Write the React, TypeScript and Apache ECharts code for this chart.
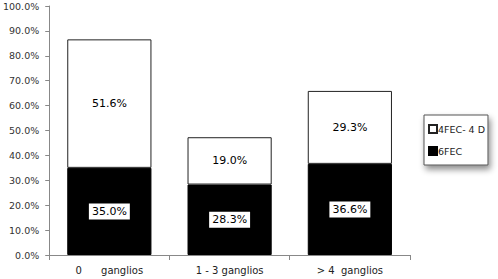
import React, { useEffect, useRef } from "react";
import * as echarts from "echarts";

const categories = ["0      ganglios", "1 - 3 ganglios", "> 4  ganglios"];
const series6FEC = [35.0, 28.3, 36.6];
const series4FEC = [51.6, 19.0, 29.3];
const seriesNames = ["6FEC", "4FEC- 4 D"];

export default function App() {
  const ref = useRef<HTMLDivElement>(null);
  useEffect(() => {
    if (!ref.current) return;
    const chart = echarts.init(ref.current, undefined, { renderer: "svg" });
    const font = "DejaVu Sans";
    const label = {
      show: true,
      position: "inside",
      color: "#000",
      backgroundColor: "#fff",
      padding: [3, 3, 2, 3],
      fontFamily: font,
      fontSize: 11,
      formatter: (p: any) => `${Number(p.value).toFixed(1)}%`,
    };
    chart.setOption({
      animation: false,
      textStyle: { fontFamily: font },
      grid: { left: 49, right: 88, top: 6, bottom: 24 },
      legend: {
        orient: "vertical",
        left: 424,
        top: 115,
        data: [seriesNames[1], seriesNames[0]],
        itemWidth: 8,
        itemHeight: 8,
        itemGap: 12,
        padding: [9, 3, 9, 4],
        backgroundColor: "#fff",
        borderColor: "#555",
        borderWidth: 1,
        shadowColor: "rgba(0,0,0,0.45)",
        shadowBlur: 6,
        shadowOffsetX: 2,
        shadowOffsetY: 4,
        textStyle: { fontFamily: font, fontSize: 9.5, color: "#222", padding: [0, 0, 0, -4] },
        icon: "rect",
      },
      xAxis: {
        type: "category",
        data: categories,
        axisLine: { lineStyle: { color: "#888" } },
        axisTick: { show: true, length: 5, lineStyle: { color: "#888" } },
        axisLabel: { color: "#222", fontSize: 10, fontFamily: font, margin: 10 },
      },
      yAxis: {
        type: "value",
        min: 0,
        max: 100,
        interval: 10,
        splitLine: { show: false },
        axisLine: { show: true, lineStyle: { color: "#888" } },
        axisTick: { show: true, length: 4, lineStyle: { color: "#888" } },
        axisLabel: {
          color: "#333",
          fontSize: 9.5,
          fontFamily: font,
          margin: 10,
          formatter: (v: number) => `${v.toFixed(1)}%`,
        },
      },
      series: [
        {
          name: seriesNames[0],
          type: "bar",
          stack: "total",
          barWidth: "70%",
          data: series6FEC,
          itemStyle: { color: "#000", borderColor: "#000", borderWidth: 1 },
          label,
        },
        {
          name: seriesNames[1],
          type: "bar",
          stack: "total",
          barWidth: "70%",
          data: series4FEC,
          itemStyle: { color: "#fff", borderColor: "#222", borderWidth: 1 },
          label,
        },
      ],
    });
    return () => chart.dispose();
  }, []);
  return <div ref={ref} style={{ width: 498, height: 279, position: "absolute", left: 0, top: 0, background: "#fff" }} />;
}
